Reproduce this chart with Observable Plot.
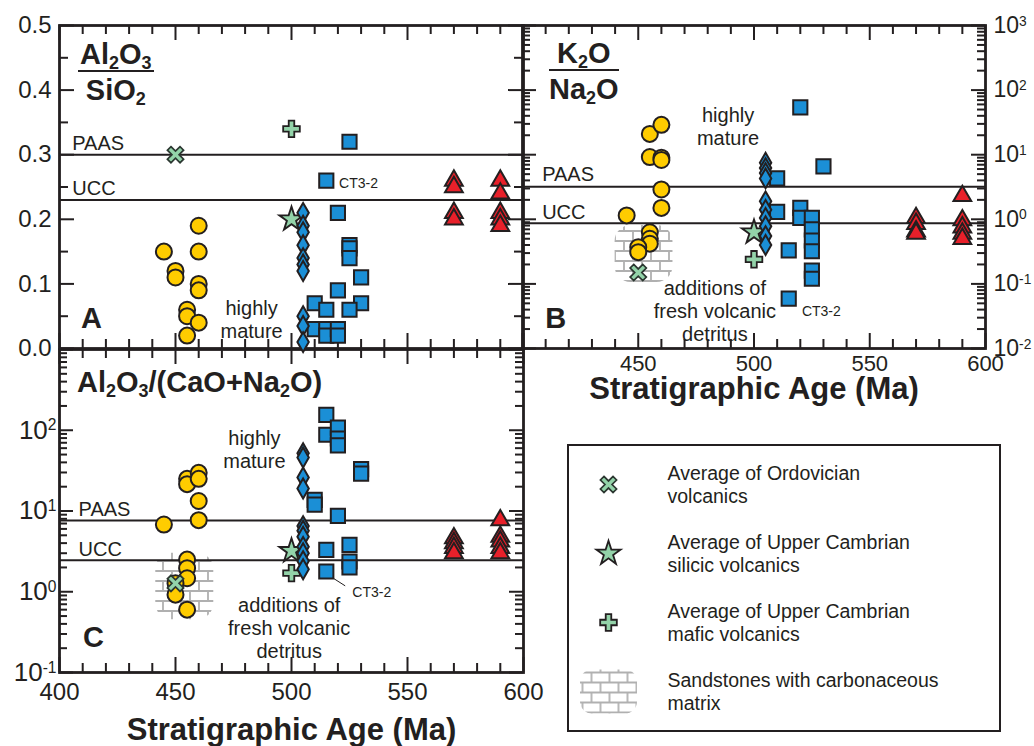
<!DOCTYPE html>
<html>
<head>
<meta charset="utf-8">
<script src="https://cdn.jsdelivr.net/npm/d3@7"></script>
<script src="https://cdn.jsdelivr.net/npm/@observablehq/plot@0.6"></script>
<style>
  html,body{margin:0;padding:0;background:#fff;}
  #wrap{position:relative;width:1034px;height:746px;overflow:hidden;background:#fff;color:#231f20;font-family:'Liberation Sans',Arial,Helvetica,sans-serif;}
  .panel{position:absolute;}
  .panel svg{display:block;overflow:visible;}
  .ttl{position:absolute;font-weight:bold;font-size:29px;line-height:29px;white-space:nowrap;color:#231f20;}
  .ttl sub{font-size:62%;vertical-align:-0.3em;line-height:0;}
  .frac{display:inline-block;text-align:center;}
  .frac .num{border-bottom:2.6px solid #231f20;padding:0 2px 1px;}
  .frac .den{margin-top:4px;}
  #legend{position:absolute;left:567px;top:444px;width:434px;height:288px;border:2.5px solid #231f20;box-sizing:border-box;background:#fff;}
  #legend svg{display:block;}
</style>
</head>
<body>
<svg width="0" height="0" style="position:absolute">
  <defs>
    <pattern id="bricks" patternUnits="userSpaceOnUse" width="18" height="20">
      <rect width="18" height="20" fill="#fff"/>
      <path d="M0,1H18M0,11H18M1,1V11M10,11V21" stroke="#b0b0b0" stroke-width="1.8" fill="none"/>
    </pattern>
  </defs>
</svg>
<div id="wrap">
  <div class="panel" id="pC" style="left:0;top:340px;width:540px;height:406px"></div>
  <div class="panel" id="pA" style="left:0;top:0;width:530px;height:360px"></div>
  <div class="panel" id="pB" style="left:515px;top:0;width:519px;height:410px"></div>
  <div class="ttl" style="left:78px;top:40px"><div class="frac"><div class="num">Al<sub>2</sub>O<sub>3</sub></div><div class="den">SiO<sub>2</sub></div></div></div>
  <div class="ttl" style="left:549px;top:39px"><div class="frac"><div class="num">K<sub>2</sub>O</div><div class="den">Na<sub>2</sub>O</div></div></div>
  <div class="ttl" style="left:77px;top:368px">Al<sub>2</sub>O<sub>3</sub>/(CaO+Na<sub>2</sub>O)</div>
  <div id="legend"></div>
</div>
<script>
// ---------------- DATA ----------------
// x ticks (Stratigraphic Age, Ma)
const xMajor = [400, 450, 500, 550, 600];
const xMinor = [410, 420, 430, 440, 460, 470, 480, 490, 510, 520, 530, 540, 560, 570, 580, 590];
const xLabelsB = [450, 500, 550, 600];

// Panel A: Al2O3/SiO2 (linear)
const aYMajor = [0, 0.1, 0.2, 0.3, 0.4, 0.5];
const aYMinor = [0.05, 0.15, 0.25, 0.35, 0.45];
const aPAAS = 0.30, aUCC = 0.23;
const aCircles = [[445,0.15],[450,0.12],[450,0.11],[455,0.06],[455,0.05],[455,0.02],[460,0.19],[460,0.15],[460,0.10],[460,0.09],[460,0.04]];
const aDiamonds = [[505,0.21],[505,0.19],[505,0.18],[505,0.16],[505,0.14],[505,0.13],[505,0.12],[505,0.05],[505,0.035],[505,0.01]];
const aSquares = [[525,0.32],[515,0.26],[520,0.21],[525,0.16],[525,0.155],[525,0.14],[530,0.11],[520,0.09],[510,0.07],[530,0.07],[515,0.06],[525,0.06],[510,0.03],[515,0.03],[515,0.02],[520,0.03],[520,0.02]];
const aTriangles = [[570,0.26],[570,0.25],[570,0.21],[570,0.20],[590,0.26],[590,0.24],[590,0.21],[590,0.20],[590,0.19]];
const aOrdVolc = [[450,0.30]];
const aSilicic = [[500,0.20]];
const aMafic = [[500,0.34]];

// Panel B: K2O/Na2O (log)
const bDecades = [0.01, 0.1, 1, 10, 100, 1000];
const bPAAS = 3.2, bUCC = 0.87;
const bCircles = [[445,1.15],[455,21],[460,29],[455,9.2],[460,9.0],[460,8.3],[460,2.9],[460,1.5],[455,0.63],[455,0.5],[455,0.42],[450,0.37],[450,0.31]];
const bDiamonds = [[505,7.5],[505,6.2],[505,5.2],[505,4.3],[505,1.9],[505,1.4],[505,1.05],[505,0.78],[505,0.55],[505,0.4]];
const bSquares = [[520,54],[530,6.6],[510,4.3],[510,1.3],[520,1.5],[520,1.05],[525,1.05],[525,0.7],[525,0.47],[525,0.32],[525,0.16],[525,0.12],[515,0.33],[515,0.059]];
const bTriangles = [[570,1.05],[570,0.85],[570,0.65],[570,0.6],[590,2.3],[590,0.97],[590,0.75],[590,0.6],[590,0.5]];
const bOrdVolc = [[450,0.15]];
const bSilicic = [[500,0.63]];
const bMafic = [[500,0.24]];
const bSandAge = [440, 465], bSandVal = [0.105, 0.8];

// Panel C: Al2O3/(CaO+Na2O) (log)
const cDecades = [0.1, 1, 10, 100, 1000];
const cLabelDecades = [0.1, 1, 10, 100];
const cPAAS = 7.6, cUCC = 2.45;
const cCircles = [[445,6.8],[455,25],[455,21.5],[460,29.7],[460,25],[460,13.3],[460,7.7],[455,2.5],[455,1.96],[455,1.47],[450,1.27],[450,0.92],[455,0.6]];
const cDiamonds = [[505,52],[505,46],[505,26],[505,19],[505,6.5],[505,5.7],[505,4.8],[505,3.6],[505,3.0],[505,2.4],[505,1.9]];
const cSquares = [[515,155],[515,88],[520,108],[520,79],[520,65],[530,33],[530,29],[510,13.7],[510,12],[520,8.7],[515,3.3],[515,1.78],[525,3.8],[525,2.37],[525,2.0]];
const cTriangles = [[570,4.6],[570,4.0],[570,3.5],[570,3.0],[590,7.7],[590,4.8],[590,4.2],[590,3.5],[590,3.0]];
const cOrdVolc = [[450,1.27]];
const cSilicic = [[500,3.2]];
const cMafic = [[500,1.7]];
const cSandAge = [441.5, 466.5], cSandVal = [0.45, 3.0];
const cLeader = [[516,1.6],[523,1.19]];

const legendLabels = [
  "Average of Ordovician\nvolcanics",
  "Average of Upper Cambrian\nsilicic volcanics",
  "Average of Upper Cambrian\nmafic volcanics",
  "Sandstones with carbonaceous\nmatrix"
];

// ---------------- STYLE ----------------
const INK = "#231f20", YEL = "#ffcc00", BLUE = "#1b8fd6", RED = "#e8202a", MINT = "#93d3a9";
const FONT = "'Liberation Sans', Arial, Helvetica, sans-serif";
const STYLE = {background: "transparent", fontFamily: FONT, fontSize: "24px", color: INK, overflow: "visible"};

const logMinors = (lo, hi) => {
  const out = [];
  for (let e = lo; e < hi; e++) for (let k = 2; k <= 9; k++) out.push(+(k * Math.pow(10, e)).toPrecision(6));
  return out;
};

const X_SYM = {
  draw(ctx, size) {
    const r = Math.sqrt(size / 5) / 2;
    const pts = [[-3,-0.85],[-0.85,-0.85],[-0.85,-3],[0.85,-3],[0.85,-0.85],[3,-0.85],[3,0.85],[0.85,0.85],[0.85,3],[-0.85,3],[-0.85,0.85],[-3,0.85]];
    const c = Math.SQRT1_2;
    pts.forEach(([a, b], i) => {
      const x = (a - b) * c * r, y = (a + b) * c * r;
      i ? ctx.lineTo(x, y) : ctx.moveTo(x, y);
    });
    ctx.closePath();
  }
};
const BRICK_SYM = {
  draw(ctx) {
    const w = 28.5, h = 22, rr = 12;
    ctx.moveTo(-w + rr, -h); ctx.lineTo(w - rr, -h); ctx.arcTo(w, -h, w, -h + rr, rr);
    ctx.lineTo(w, h - rr); ctx.arcTo(w, h, w - rr, h, rr);
    ctx.lineTo(-w + rr, h); ctx.arcTo(-w, h, -w, h - rr, rr);
    ctx.lineTo(-w, -h + rr); ctx.arcTo(-w, -h, -w + rr, -h, rr); ctx.closePath();
  }
};

function edgeTicks(W, H, xMaj, xMin, yMaj, yMin, L) {
  const s = {stroke: INK, strokeWidth: 2};
  return [
    Plot.tickX(xMaj, {x: d => d, insetBottom: H - L[0], ...s}),
    Plot.tickX(xMin, {x: d => d, insetBottom: H - L[1], ...s}),
    Plot.tickX(xMaj, {x: d => d, insetTop: H - L[0], ...s}),
    Plot.tickX(xMin, {x: d => d, insetTop: H - L[1], ...s}),
    Plot.tickY(yMaj, {y: d => d, insetRight: W - L[2], ...s}),
    Plot.tickY(yMin, {y: d => d, insetRight: W - L[3], ...s}),
    Plot.tickY(yMaj, {y: d => d, insetLeft: W - L[2], ...s}),
    Plot.tickY(yMin, {y: d => d, insetLeft: W - L[3], ...s})
  ];
}

function seriesMarks(S) {
  const xy = {x: d => d[0], y: d => d[1]};
  return [
    Plot.dot(S.circles, {...xy, symbol: "circle", r: 8, fill: YEL, stroke: INK, strokeWidth: 2}),
    Plot.dot(S.ordVolc, {...xy, symbol: X_SYM, r: 7.5, fill: MINT, stroke: "#2b3630", strokeWidth: 1.7}),
    Plot.dot(S.silicic, {...xy, symbol: "star", r: 7.6, fill: MINT, stroke: INK, strokeWidth: 1.9}),
    Plot.dot(S.mafic, {...xy, symbol: "cross", r: 7, fill: MINT, stroke: INK, strokeWidth: 1.8}),
    Plot.dot(S.squares, {...xy, symbol: "square", r: 8, fill: BLUE, stroke: INK, strokeWidth: 2}),
    Plot.dot(S.diamonds, {...xy, symbol: "diamond", r: 6, fill: BLUE, stroke: INK, strokeWidth: 2}),
    Plot.dot(S.triangles, {...xy, symbol: "triangle", r: 6.6, fill: RED, stroke: INK, strokeWidth: 2})
  ];
}

const txt = (s, o) => Plot.text([s], {text: d => d, fill: INK, fontFamily: FONT, ...o});
const supFmt = d => "10^" + Math.round(Math.log10(d));
function supify(svg) {
  d3.select(svg).selectAll("text").each(function () {
    const m = /^10\^(-?\d+)$/.exec(this.textContent);
    if (m) {
      const s = d3.select(this);
      s.text("10");
      s.append("tspan").attr("dy", "-0.52em").attr("font-size", "0.6em").text(m[1]);
    }
  });
  return svg;
}

// ---------------- PANEL A ----------------
const plotA = Plot.plot({
  width: 530, height: 360, marginLeft: 59, marginRight: 7, marginTop: 25, marginBottom: 12,
  x: {domain: [400, 600], axis: null},
  y: {domain: [0, 0.5]},
  style: STYLE,
  marks: [
    Plot.frame({stroke: INK, strokeWidth: 2.8}),
    ...edgeTicks(464, 323, xMajor, xMinor, aYMajor, aYMinor, [15, 9, 15, 9]),
    Plot.axisY({ticks: aYMajor, tickSize: 0, tickPadding: 8, tickFormat: d => d.toFixed(1), fontSize: 24, label: null}),
    Plot.ruleY([aPAAS, aUCC], {stroke: INK, strokeWidth: 2}),
    txt("PAAS", {x: 405.5, y: aPAAS, dy: -11, textAnchor: "start", fontSize: 20}),
    txt("UCC", {x: 405.5, y: aUCC, dy: -11, textAnchor: "start", fontSize: 20}),
    txt("CT3-2", {x: 520.5, y: 0.255, textAnchor: "start", fontSize: 14}),
    txt("highly\nmature", {x: 482.8, y: 0.0457, fontSize: 20, lineHeight: 1.15}),
    txt("A", {x: 413.8, y: 0.0464, fontSize: 29, fontWeight: "bold"}),
    ...seriesMarks({circles: aCircles, ordVolc: aOrdVolc, silicic: aSilicic, mafic: aMafic, squares: aSquares, diamonds: aDiamonds, triangles: aTriangles})
  ]
});
document.getElementById("pA").append(plotA);

// ---------------- PANEL B ----------------
const plotB = Plot.plot({
  width: 519, height: 410, marginLeft: 7, marginRight: 49, marginTop: 25, marginBottom: 62,
  x: {domain: [400, 600]},
  y: {type: "log", domain: [0.01, 1000]},
  style: STYLE,
  marks: [
    Plot.rect([0], {x1: () => bSandAge[0], x2: () => bSandAge[1], y1: () => bSandVal[0], y2: () => bSandVal[1], fill: "url(#bricks)", rx: 16}),
    Plot.frame({stroke: INK, strokeWidth: 2.8}),
    ...edgeTicks(463, 323, xMajor, xMinor, bDecades, logMinors(-2, 3), [15, 9, 14, 8]),
    Plot.axisX({ticks: xLabelsB, tickSize: 0, tickPadding: 7, tickFormat: d => String(d), fontSize: 22, label: null}),
    Plot.axisY({anchor: "right", ticks: bDecades, tickSize: 0, tickPadding: 8, tickFormat: supFmt, fontSize: 23, label: null}),
    txt("Stratigraphic Age (Ma)", {frameAnchor: "bottom", dy: 50, fontSize: 31, fontWeight: "bold"}),
    Plot.ruleY([bPAAS, bUCC], {stroke: INK, strokeWidth: 2}),
    txt("PAAS", {x: 408.5, y: bPAAS, dy: -12, textAnchor: "start", fontSize: 20}),
    txt("UCC", {x: 408.5, y: bUCC, dy: -11, textAnchor: "start", fontSize: 20}),
    txt("highly\nmature", {x: 488.8, y: 27.3, fontSize: 20, lineHeight: 1.15}),
    txt("additions of\nfresh volcanic\ndetritus", {x: 483.1, y: 0.0389, fontSize: 20, lineHeight: 1.15}),
    txt("CT3-2", {x: 520.7, y: 0.0378, textAnchor: "start", fontSize: 14}),
    txt("B", {x: 414.4, y: 0.0288, fontSize: 29, fontWeight: "bold"}),
    ...seriesMarks({circles: bCircles, ordVolc: bOrdVolc, silicic: bSilicic, mafic: bMafic, squares: bSquares, diamonds: bDiamonds, triangles: bTriangles})
  ]
});
document.getElementById("pB").append(supify(plotB));

// ---------------- PANEL C ----------------
const plotC = Plot.plot({
  width: 540, height: 406, marginLeft: 59, marginRight: 17, marginTop: 9, marginBottom: 74,
  x: {domain: [400, 600]},
  y: {type: "log", domain: [0.1, 1000]},
  style: STYLE,
  marks: [
    Plot.rect([0], {x1: () => cSandAge[0], x2: () => cSandAge[1], y1: () => cSandVal[0], y2: () => cSandVal[1], fill: "url(#bricks)", rx: 16}),
    Plot.frame({stroke: INK, strokeWidth: 2.8}),
    ...edgeTicks(464, 323, xMajor, xMinor, cDecades, logMinors(-1, 3), [15, 9, 14, 8]),
    Plot.axisX({ticks: xMajor, tickSize: 0, tickPadding: 10, tickFormat: d => String(d), fontSize: 24, label: null}),
    Plot.axisY({ticks: cLabelDecades, tickSize: 0, tickPadding: 3, tickFormat: supFmt, fontSize: 26, label: null}),
    txt("Stratigraphic Age (Ma)", {frameAnchor: "bottom", dy: 67, fontSize: 31, fontWeight: "bold"}),
    Plot.ruleY([cPAAS, cUCC], {stroke: INK, strokeWidth: 2}),
    txt("PAAS", {x: 408.2, y: cPAAS, dy: -11, textAnchor: "start", fontSize: 20}),
    txt("UCC", {x: 408.2, y: cUCC, dy: -11, textAnchor: "start", fontSize: 20}),
    txt("highly\nmature", {x: 484, y: 58.2, fontSize: 20, lineHeight: 1.15}),
    txt("additions of\nfresh volcanic\ndetritus", {x: 499, y: 0.356, fontSize: 20, lineHeight: 1.15}),
    Plot.line(cLeader, {x: d => d[0], y: d => d[1], stroke: INK, strokeWidth: 1}),
    txt("CT3-2", {x: 526.2, y: 0.99, textAnchor: "start", fontSize: 14}),
    txt("C", {x: 414.6, y: 0.268, fontSize: 29, fontWeight: "bold"}),
    ...seriesMarks({circles: cCircles, ordVolc: cOrdVolc, silicic: cSilicic, mafic: cMafic, squares: cSquares, diamonds: cDiamonds, triangles: cTriangles})
  ]
});
document.getElementById("pC").append(supify(plotC));

// ---------------- LEGEND ----------------
const legendSym = [
  {symbol: X_SYM, r: 7.5, fill: MINT, stroke: "#2b3630", strokeWidth: 1.7},
  {symbol: "star", r: 7.6, fill: MINT, stroke: INK, strokeWidth: 1.8},
  {symbol: "cross", r: 7, fill: MINT, stroke: INK, strokeWidth: 1.8},
  {symbol: BRICK_SYM, r: 5, fill: "url(#bricks)", stroke: "none"}
];
const plotL = Plot.plot({
  width: 429, height: 283, margin: 0,
  x: {type: "point", domain: ["sym", "txt"], range: [38.5, 97.5], padding: 0, axis: null},
  y: {type: "point", domain: legendLabels, range: [38, 245], padding: 0, axis: null},
  style: STYLE,
  marks: [
    ...legendLabels.map((lab, i) => Plot.dot([lab], {x: () => "sym", y: d => d, ...legendSym[i]})),
    Plot.text(legendLabels, {x: () => "txt", y: d => d, text: d => d, textAnchor: "start", lineHeight: 1.17, fontSize: 19.5, fill: INK, fontFamily: FONT})
  ]
});
document.getElementById("legend").append(plotL);
</script>
</body>
</html>
